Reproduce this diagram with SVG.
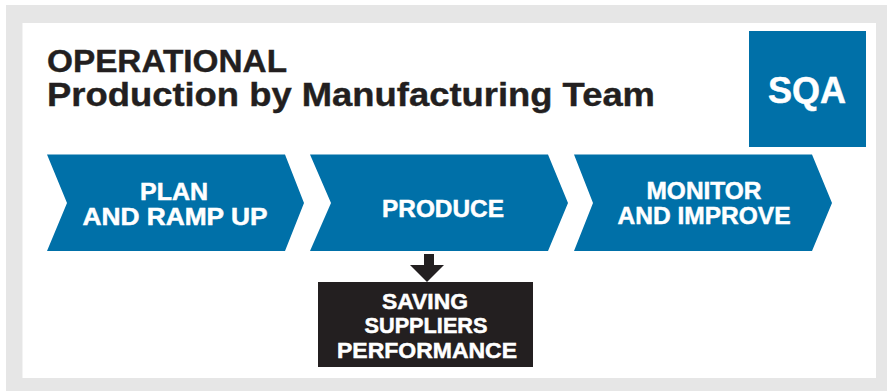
<svg xmlns="http://www.w3.org/2000/svg" width="887" height="391" viewBox="0 0 887 391">
<style>
.chev{fill:#0070a8}
.wt{fill:#ffffff;stroke:#ffffff;stroke-width:0.5;font-family:"Liberation Sans",Arial,sans-serif;font-weight:bold;text-anchor:middle}
.title{fill:#231f20;stroke:#231f20;stroke-width:0.4;font-family:"Liberation Sans",Arial,sans-serif;font-weight:bold}
</style>
<rect x="0" y="0" width="887" height="391" fill="#ffffff"/>
<rect x="6" y="5" width="881" height="386" fill="#e6e6e6"/>
<rect x="22.5" y="23" width="853.5" height="355" fill="#ffffff"/>
<g id="title">
<text class="title" x="47" y="72" font-size="31" textLength="240" lengthAdjust="spacingAndGlyphs">OPERATIONAL</text>
<text class="title" x="47" y="106" font-size="33" textLength="608" lengthAdjust="spacingAndGlyphs">Production by Manufacturing Team</text>
</g>
<g id="sqa">
<rect x="749" y="31" width="117" height="116" fill="#0070a8"/>
<text class="wt" x="807" y="103" font-size="36" textLength="78" lengthAdjust="spacingAndGlyphs">SQA</text>
</g>
<g id="plan">
<polygon class="chev" points="47,154.5 285,154.5 304,203 285,251 47,251 67,203"/>
<text class="wt" x="174" y="200" font-size="24" textLength="68" lengthAdjust="spacingAndGlyphs">PLAN</text>
<text class="wt" x="175" y="225" font-size="24" textLength="185" lengthAdjust="spacingAndGlyphs">AND RAMP UP</text>
</g>
<g id="produce">
<polygon class="chev" points="310,154.5 548,154.5 568,203 548,251 310,251 331,203"/>
<text class="wt" x="443" y="217" font-size="24" textLength="122" lengthAdjust="spacingAndGlyphs">PRODUCE</text>
</g>
<g id="monitor">
<polygon class="chev" points="574,154.5 812,154.5 832,203 812,251 574,251 593,203"/>
<text class="wt" x="704" y="198.5" font-size="24" textLength="115" lengthAdjust="spacingAndGlyphs">MONITOR</text>
<text class="wt" x="704" y="223.5" font-size="24" textLength="173" lengthAdjust="spacingAndGlyphs">AND IMPROVE</text>
</g>
<g id="connectors">
<path d="M424,254 H434 V265 H444 L427,282 L410,265 H424 Z" fill="#231f20"/>
</g>
<g id="saving">
<rect x="318" y="282" width="215" height="85" fill="#231f20"/>
<text class="wt" x="425" y="308.5" font-size="22.5" textLength="86" lengthAdjust="spacingAndGlyphs">SAVING</text>
<text class="wt" x="426" y="333" font-size="22.5" textLength="123" lengthAdjust="spacingAndGlyphs">SUPPLIERS</text>
<text class="wt" x="427" y="357.5" font-size="22.5" textLength="180" lengthAdjust="spacingAndGlyphs">PERFORMANCE</text>
</g>
</svg>
